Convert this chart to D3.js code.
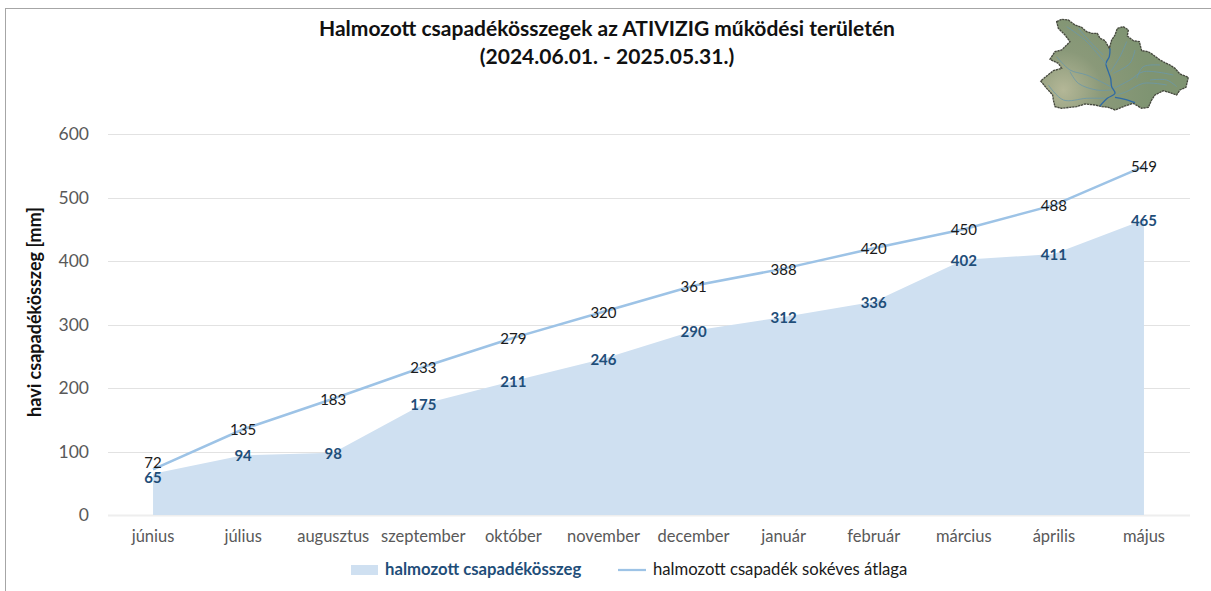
<!DOCTYPE html>
<html>
<head>
<meta charset="utf-8">
<script src="https://cdn.jsdelivr.net/npm/d3@7"></script>
<style>
html, body { margin: 0; padding: 0; background: #fff; }
svg { display: block; font-family: Lato, "Noto Sans", sans-serif; }
</style>
</head>
<body>
<div id="chart"></div>
<script>
var months = ["június", "július", "augusztus", "szeptember", "október", "november", "december", "január", "február", "március", "április", "május"];
var cumulative = [65, 94, 98, 175, 211, 246, 290, 312, 336, 402, 411, 465];
var longTermAvg = [72, 135, 183, 233, 279, 320, 361, 388, 420, 450, 488, 549];
var yTicks = [0, 100, 200, 300, 400, 500, 600];
var titleLines = ["Halmozott csapadékösszegek az ATIVIZIG működési területén", "(2024.06.01. - 2025.05.31.)"];

// decorative map outline, in its own little coordinate space
var mapOutline = [[110,65],[125,58],[145,60],[165,75],[185,82],[200,95],[215,100],[232,100],[240,115],[255,122],[268,145],[275,120],[285,105],[292,85],[310,80],[325,90],[322,108],[340,122],[358,125],[365,152],[385,155],[400,165],[420,180],[435,188],[450,195],[465,205],[480,222],[505,232],[498,262],[480,270],[470,285],[450,278],[430,272],[405,285],[395,300],[385,322],[365,325],[340,310],[315,318],[285,330],[265,322],[245,320],[225,315],[195,312],[170,320],[150,322],[125,325],[105,320],[100,300],[98,285],[80,265],[62,243],[80,228],[100,212],[125,205],[115,190],[90,178],[105,155],[125,150],[150,125],[135,105],[115,85]];
var mapRivers = [
	[[270,145],[268,170],[258,190],[265,215],[272,235],[275,260],[285,280],[262,295],[240,318]],
	[[285,292],[315,298],[345,308]],
	[[140,80],[195,120],[240,170],[262,195]],
	[[175,85],[215,130],[250,165]],
	[[110,170],[150,210],[200,225],[272,260]],
	[[150,215],[175,250],[230,270],[275,270]],
	[[320,125],[300,170],[272,215]],
	[[345,150],[330,190],[280,220]],
	[[460,225],[370,215],[330,240],[282,265]],
	[[420,195],[370,200],[350,235]],
	[[85,255],[130,300],[200,295],[255,295]],
	[[440,255],[370,250],[320,275],[290,285]],
	[[470,260],[440,240],[390,240]]
];

var width = 1211, height = 591;
var margin = { top: 134, right: 22, bottom: 76, left: 108 };
var gridRight = 1190;

var svg = d3.select("#chart").append("svg")
	.attr("width", width)
	.attr("height", height);

// frame of the pasted picture
svg.append("line").attr("x1", 5.5).attr("x2", 5.5).attr("y1", 8).attr("y2", height).attr("stroke", "#a6a6a6");
svg.append("line").attr("x1", 5).attr("x2", width).attr("y1", 8.5).attr("y2", 8.5).attr("stroke", "#a6a6a6");

var x = d3.scaleBand().domain(months).range([margin.left, width - margin.right]);
var y = d3.scaleLinear().domain([0, 600]).range([height - margin.bottom, margin.top]);
var cx = function (d) { return x(d) + x.bandwidth() / 2; };

// GRID + Y AXIS
var yAxis = svg.append("g")
	.attr("transform", "translate(" + margin.left + ",0)")
	.call(d3.axisLeft(y).tickValues(yTicks).tickSize(0).tickPadding(19));
yAxis.select(".domain").remove();
yAxis.selectAll("text").attr("fill", "#595959").attr("font-size", 17.5).attr("font-family", "Lato");
svg.append("g").selectAll("line").data(yTicks).enter().append("line")
	.attr("x1", margin.left)
	.attr("x2", gridRight)
	.attr("y1", function (d) { return Math.round(y(d)) + 0.5; })
	.attr("y2", function (d) { return Math.round(y(d)) + 0.5; })
	.attr("stroke", function (d) { return d === 0 ? "#eeeeee" : "#e2e2e2"; })
	.attr("stroke-width", function (d) { return d === 0 ? 2 : 1; });

// AREA
var area = d3.area()
	.x(function (d, i) { return cx(months[i]); })
	.y0(y(0))
	.y1(function (d) { return y(d); });
svg.append("path").datum(cumulative).attr("d", area).attr("fill", "#cfe0f1");

// LINE
var line = d3.line()
	.x(function (d, i) { return cx(months[i]); })
	.y(function (d) { return y(d); });
svg.append("path").datum(longTermAvg).attr("d", line)
	.attr("fill", "none")
	.attr("stroke", "#9dc3e6")
	.attr("stroke-width", 2.5);

// X AXIS
var xAxis = svg.append("g")
	.attr("transform", "translate(0," + y(0) + ")")
	.call(d3.axisBottom(x).tickSize(0).tickPadding(15));
xAxis.select(".domain").remove();
xAxis.selectAll("text").attr("fill", "#595959").attr("font-size", 16.5).attr("font-family", "Lato");

// DATA LABELS (first month pushed apart, the two values nearly touch)
svg.append("g").selectAll("text").data(longTermAvg).enter().append("text")
	.attr("x", function (d, i) { return cx(months[i]); })
	.attr("y", function (d, i) { return y(d) + (i === 0 ? -1 : 6); })
	.attr("text-anchor", "middle")
	.attr("font-size", 15)
	.attr("fill", "#1a1a1a")
	.text(function (d) { return d; });
svg.append("g").selectAll("text").data(cumulative).enter().append("text")
	.attr("x", function (d, i) { return cx(months[i]); })
	.attr("y", function (d, i) { return y(d) + (i === 0 ? 9 : 6); })
	.attr("text-anchor", "middle")
	.attr("font-size", 15)
	.attr("font-weight", "bold")
	.attr("fill", "#1f4e79")
	.text(function (d) { return d; });

// TITLE
svg.append("g").selectAll("text").data(titleLines).enter().append("text")
	.attr("x", 607)
	.attr("y", function (d, i) { return 36 + i * 28; })
	.attr("text-anchor", "middle")
	.attr("font-size", 21)
	.attr("font-weight", "bold")
	.attr("fill", "#111")
	.text(function (d) { return d; });

// Y TITLE
svg.append("text")
	.attr("transform", "translate(41,312) rotate(-90)")
	.attr("text-anchor", "middle")
	.attr("font-size", 18)
	.attr("font-weight", "bold")
	.attr("fill", "#111")
	.text("havi csapadékösszeg [mm]");

// LEGEND
svg.append("rect").attr("x", 351).attr("y", 565).attr("width", 27).attr("height", 10).attr("fill", "#cfe0f1");
svg.append("text").attr("x", 385).attr("y", 575)
	.attr("font-size", 16.7).attr("font-weight", "bold").attr("fill", "#1f4e79")
	.text("halmozott csapadékösszeg");
svg.append("line").attr("x1", 618).attr("x2", 646).attr("y1", 570).attr("y2", 570)
	.attr("stroke", "#9dc3e6").attr("stroke-width", 2.25);
svg.append("text").attr("x", 653).attr("y", 575)
	.attr("font-size", 16.7).attr("fill", "#1a1a1a")
	.text("halmozott csapadék sokéves átlaga");

// MAP
var defs = svg.append("defs");
var grad = defs.append("radialGradient").attr("id", "mapFill")
	.attr("gradientUnits", "userSpaceOnUse")
	.attr("cx", 130).attr("cy", 270).attr("r", 260);
grad.append("stop").attr("offset", "0").attr("stop-color", "#b4b797");
grad.append("stop").attr("offset", "0.45").attr("stop-color", "#8a9979");
grad.append("stop").attr("offset", "1").attr("stop-color", "#7f9472");
var map = svg.append("g").attr("transform", "translate(1020,0) scale(0.3333)");
map.append("path").attr("d", d3.line()(mapOutline) + "Z")
	.attr("fill", "url(#mapFill)")
	.attr("stroke", "#46493e")
	.attr("stroke-width", 4)
	.attr("stroke-dasharray", "7 2");
map.selectAll(".river").data(mapRivers).enter().append("path")
	.attr("class", "river")
	.attr("d", d3.line().curve(d3.curveCatmullRom))
	.attr("fill", "none")
	.attr("stroke", function (d, i) { return i < 2 ? "#2f6aa5" : "#6b97a8"; })
	.attr("stroke-width", function (d, i) { return i < 2 ? 4 : 2.5; });
</script>
</body>
</html>
